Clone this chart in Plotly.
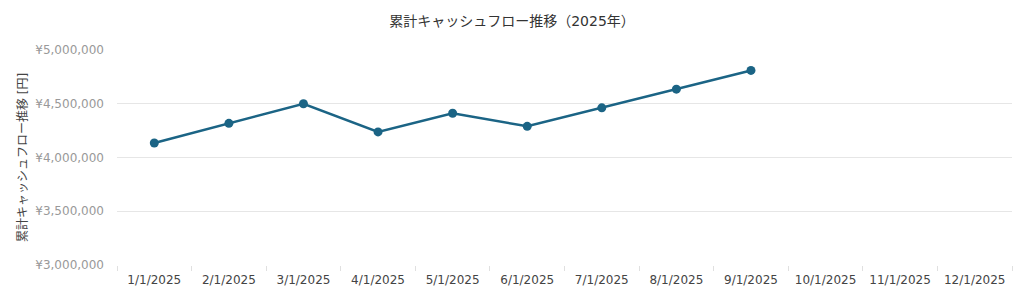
import plotly.graph_objects as go

months = ["1/1/2025", "2/1/2025", "3/1/2025", "4/1/2025", "5/1/2025", "6/1/2025",
          "7/1/2025", "8/1/2025", "9/1/2025", "10/1/2025", "11/1/2025", "12/1/2025"]
data_months = months[:9]
cumulative_cf = [4135000, 4318000, 4500000, 4238000, 4412000, 4290000, 4462000, 4636000, 4810000]
y_ticks = [3000000, 3500000, 4000000, 4500000, 5000000]

FONT = "DejaVu Sans, Verdana, Noto Sans CJK JP, sans-serif"

fig = go.Figure(go.Scatter(
    x=data_months, y=cumulative_cf, mode="lines+markers",
    line=dict(color="#1b6485", width=2.5),
    marker=dict(color="#1b6485", size=9),
))

fig.update_layout(
    width=1024, height=298,
    margin=dict(l=117, r=12, t=50, b=33),
    paper_bgcolor="white", plot_bgcolor="white",
    font=dict(family=FONT, size=12, color="#555"),
    title=dict(text="累計キャッシュフロー推移（2025年）", x=0.5, xanchor="center",
               y=0.93, yanchor="middle", font=dict(size=14, color="#333")),
    showlegend=False,
)
fig.update_xaxes(
    type="category", categoryorder="array", categoryarray=months,
    range=[-0.5, 11.5], tickson="boundaries", ticks="outside", ticklen=5,
    tickcolor="#e0e0e0", showgrid=False, showline=False,
    tickfont=dict(size=12, color="#444"), ticklabelstandoff=6,
)
fig.update_yaxes(
    range=[3000000, 5000000], tickvals=y_ticks,
    ticktext=[f"¥{v:,}" for v in y_ticks],
    showgrid=True, gridcolor="#e6e6e6", gridwidth=1, zeroline=False,
    tickfont=dict(size=12, color="#999"), ticks="", ticklabelstandoff=12,
    title=dict(text="累計キャッシュフロー推移 [円]", font=dict(size=12, color="#444"), standoff=5),
)

fig.write_html("out.html")
